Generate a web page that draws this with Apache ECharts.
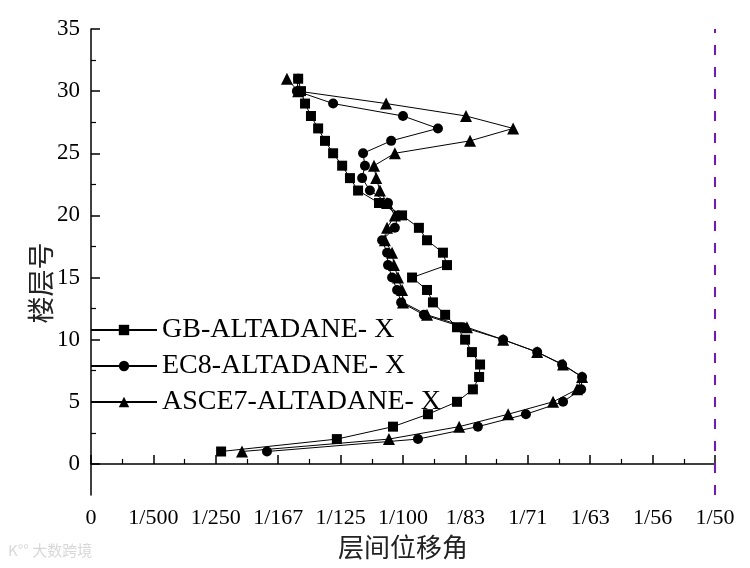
<!DOCTYPE html>
<html>
<head>
<meta charset="utf-8">
<script src="https://cdn.jsdelivr.net/npm/echarts@6/dist/echarts.min.js"></script>
<style>
  html, body { margin: 0; padding: 0; background: #ffffff; }
  #chart { width: 750px; height: 568px; }
</style>
</head>
<body>
<div id="chart"></div>
<script>
// ---- data (inter-storey drift ratio vs floor number) ----
const floors = [1,2,3,4,5,6,7,8,9,10,11,12,13,14,15,16,17,18,19,20,21,22,23,24,25,26,27,28,29,30,31];
const gbDrift = [0.00417,0.00788,0.00968,0.01080,0.01173,0.01224,0.01244,0.01247,0.01221,0.01199,
                 0.01173,0.01135,0.01096,0.01077,0.01029,0.01141,0.01128,0.01077,0.01051,0.00997,
                 0.00923,0.00856,0.00830,0.00805,0.00776,0.00750,0.00728,0.00705,0.00686,0.00673,0.00664];
const ec8Drift = [0.00564,0.01048,0.01240,0.01394,0.01513,0.01571,0.01574,0.01510,0.01430,0.01321,
                  0.01192,0.01067,0.00994,0.00981,0.00965,0.00952,0.00949,0.00933,0.00974,0.00984,
                  0.00952,0.00894,0.00869,0.00878,0.00872,0.00962,0.01112,0.01000,0.00776,0.00660,0.00664];
const asce7Drift = [0.00484,0.00955,0.01180,0.01337,0.01481,0.01558,0.01574,0.01513,0.01430,0.01321,
                    0.01205,0.01077,0.01000,0.00997,0.00984,0.00971,0.00965,0.00942,0.00949,0.00974,
                    0.00949,0.00926,0.00914,0.00907,0.00974,0.01215,0.01353,0.01202,0.00946,0.00664,0.00628];
const seriesNames = ['GB-ALTADANE- X', 'EC8-ALTADANE- X', 'ASCE7-ALTADANE- X'];
const xTickLabels = ['0','1/500','1/250','1/167','1/125','1/100','1/83','1/71','1/63','1/56','1/50'];
const yTickValues = [0,5,10,15,20,25,30,35];
const yMinorTickValues = [2.5,7.5,12.5,17.5,22.5,27.5,32.5];
const driftLimit = 0.02;

const serif = '"Liberation Serif", "Times New Roman", serif';
const cjk = '"Noto Sans CJK SC", sans-serif';

function pairs(arr) { return floors.map((f, i) => [arr[i], f]); }

const chart = echarts.init(document.getElementById('chart'), null, { renderer: 'canvas' });

const baseSeries = {
  type: 'line',
  xAxisIndex: 0,
  yAxisIndex: 0,
  lineStyle: { color: '#000', width: 1 },
  itemStyle: { color: '#000' },
  showSymbol: true,
  animation: false
};

chart.setOption({
  backgroundColor: '#ffffff',
  animation: false,
  grid: { left: 91, right: 35, top: 29, bottom: 73, containLabel: false },
  legend: {
    data: seriesNames,
    orient: 'vertical',
    left: 85,
    top: 311,
    itemWidth: 66,
    itemHeight: 13,
    itemGap: 8,
    textStyle: { fontFamily: serif, fontSize: 28, color: '#000' }
  },
  xAxis: {
    type: 'value',
    min: 0,
    max: 0.02,
    interval: 0.002,
    name: '层间位移角',
    nameLocation: 'middle',
    nameGap: 36,
    nameTextStyle: { fontFamily: cjk, fontSize: 26, color: '#222' },
    axisLine: { show: true, lineStyle: { color: '#000', width: 1.5 } },
    axisTick: { show: true, inside: true, length: 9, lineStyle: { color: '#000', width: 1.5 } },
    minorTick: { show: true, splitNumber: 2, length: 5, lineStyle: { color: '#000', width: 1.2 } },
    splitLine: { show: false },
    minorSplitLine: { show: false },
    axisLabel: {
      margin: 12,
      fontFamily: serif,
      fontSize: 22,
      color: '#000',
      formatter: function (v) { return xTickLabels[Math.round(v / 0.002)]; }
    }
  },
  yAxis: [{
    type: 'value',
    min: -2.5,
    max: 35,
    axisLine: { show: true, lineStyle: { color: '#000', width: 1.5 } },
    axisTick: { show: true, inside: true, length: 9, customValues: yTickValues, lineStyle: { color: '#000', width: 1.5 } },
    splitLine: { show: false },
    axisLabel: {
      customValues: yTickValues,
      margin: 11,
      fontFamily: serif,
      fontSize: 23,
      color: '#000'
    }
  }, {
    type: 'value',
    position: 'left',
    min: -2.5,
    max: 35,
    axisLine: { show: false },
    axisTick: { show: true, inside: true, length: 5, customValues: yMinorTickValues, lineStyle: { color: '#000', width: 1.2 } },
    axisLabel: { show: false },
    splitLine: { show: false }
  }],
  graphic: [{
    type: 'text',
    x: 41,
    y: 283,
    rotation: Math.PI / 2,
    style: {
      text: '楼层号',
      font: '27px ' + cjk,
      fill: '#222',
      textAlign: 'center',
      textVerticalAlign: 'middle'
    }
  }, {
    type: 'text',
    x: 8,
    y: 543,
    style: {
      text: 'K°° 大数跨境',
      font: '15px ' + cjk,
      fill: '#d8d8d8'
    }
  }],
  series: [
    Object.assign({}, baseSeries, {
      name: seriesNames[1],
      data: pairs(ec8Drift),
      symbol: 'circle',
      symbolSize: 10
    }),
    Object.assign({}, baseSeries, {
      name: seriesNames[2],
      data: pairs(asce7Drift),
      symbol: 'triangle',
      symbolSize: 12
    }),
    Object.assign({}, baseSeries, {
      name: seriesNames[0],
      data: pairs(gbDrift),
      symbol: 'rect',
      symbolSize: 10,
      markLine: {
        silent: true,
        symbol: ['none', 'none'],
        label: { show: false },
        lineStyle: { color: '#7B10D8', width: 2, type: [10, 12] },
        data: [{ xAxis: driftLimit }]
      }
    })
  ]
});
</script>
</body>
</html>
